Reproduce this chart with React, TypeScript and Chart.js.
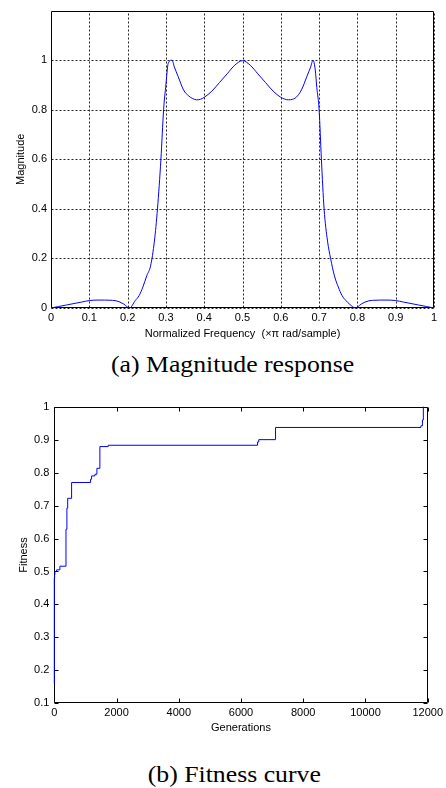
import React, { useEffect, useRef } from 'react';
import { Chart, registerables } from 'chart.js';

Chart.register(...registerables);

// ---- (a) Magnitude response ----
const freq = [
  0, 0.02, 0.04, 0.06, 0.08, 0.1, 0.12, 0.14, 0.16, 0.17, 0.18, 0.19, 0.205,
  0.22, 0.23, 0.24, 0.25, 0.26, 0.27, 0.278, 0.287, 0.294, 0.3, 0.306, 0.316,
  0.322, 0.332, 0.346, 0.36, 0.37, 0.38, 0.39, 0.4, 0.42, 0.44, 0.46, 0.48, 0.5,
  0.52, 0.54, 0.56, 0.58, 0.6, 0.61, 0.62, 0.63, 0.64, 0.654, 0.668, 0.678,
  0.684, 0.69, 0.694, 0.7, 0.706, 0.713, 0.722, 0.73, 0.74, 0.75, 0.76, 0.77,
  0.78, 0.795, 0.81, 0.82, 0.83, 0.84, 0.86, 0.88, 0.9, 0.92, 0.94, 0.96, 0.98, 1,
];
const magnitude = [
  0, 0.006, 0.012, 0.018, 0.024, 0.03, 0.032, 0.032, 0.031, 0.029, 0.024, 0.016, 0,
  0.03, 0.05, 0.085, 0.13, 0.17, 0.27, 0.4, 0.6, 0.8, 0.9, 0.987, 1.0,
  0.973, 0.934, 0.88, 0.855, 0.845, 0.84, 0.842, 0.85, 0.875, 0.91, 0.945, 0.98, 0.998,
  0.98, 0.945, 0.91, 0.875, 0.85, 0.843, 0.84, 0.842, 0.85, 0.88, 0.934, 0.973,
  1.0, 0.96, 0.89, 0.8, 0.6, 0.4, 0.27, 0.2, 0.13, 0.085, 0.05, 0.03,
  0.015, 0, 0.016, 0.024, 0.029, 0.031, 0.032, 0.032, 0.03, 0.024, 0.018, 0.012, 0.006, 0,
];
const freqMin = 0;
const freqMax = 1;
const freqStep = 0.1;
const magMin = 0;
const magMax = 1.2;
const magStep = 0.2;
const magTickMax = 1;

// ---- (b) Fitness curve ----
const generations = [
  0, 0, 10, 20, 75, 180, 375, 405, 430, 556, 1166, 1198, 1305, 1369, 1465, 1733,
  6530, 6570, 7110, 11780, 11830, 11860,
];
const fitness = [
  0.16, 0.48, 0.49, 0.5, 0.505, 0.516, 0.628, 0.692, 0.722, 0.77, 0.78, 0.79, 0.795,
  0.813, 0.879, 0.883, 0.893, 0.9, 0.937, 0.942, 0.96, 1.0,
];
const genMin = 0;
const genMax = 12000;
const genStep = 2000;
const fitMin = 0.1;
const fitMax = 1;
const fitStep = 0.1;

const FONT = "'Liberation Sans', Arial, sans-serif";

const fmt = (v: number) => String(Number(v.toFixed(2)));

const boxPlugin = {
  id: 'box',
  beforeDatasetsDraw(chart: any, _args: any, opts: any) {
    const { ctx, chartArea: a } = chart;
    const l = Math.round(a.left) + 0.5;
    const r = Math.round(a.right) - 0.5;
    const t = Math.round(a.top) + 0.5;
    const b = Math.round(a.bottom) - 0.5;
    const xs = chart.scales.x;
    const ys = chart.scales.y;
    ctx.save();
    ctx.lineWidth = 1;
    if (opts && opts.grid) {
      ctx.strokeStyle = '#222';
      ctx.setLineDash([2, 2]);
      ctx.beginPath();
      xs.ticks.forEach((tk: any) => {
        const px = Math.round(xs.getPixelForValue(tk.value)) + 0.5;
        ctx.moveTo(px, b);
        ctx.lineTo(px, t);
      });
      ys.ticks.forEach((tk: any) => {
        const py = Math.round(ys.getPixelForValue(tk.value)) + 0.5;
        ctx.moveTo(l, py);
        ctx.lineTo(r, py);
      });
      ctx.stroke();
    }
    ctx.setLineDash([]);
    ctx.strokeStyle = '#000';
    ctx.beginPath();
    ctx.rect(l, t, r - l, b - t);
    ctx.stroke();
    if (opts && opts.ticks) {
      const len = 4;
      ctx.beginPath();
      xs.ticks.forEach((tk: any) => {
        const px = Math.round(xs.getPixelForValue(tk.value)) + 0.5;
        ctx.moveTo(px, b);
        ctx.lineTo(px, b - len);
        ctx.moveTo(px, t);
        ctx.lineTo(px, t + len);
      });
      ys.ticks.forEach((tk: any) => {
        const py = Math.round(ys.getPixelForValue(tk.value)) + 0.5;
        ctx.moveTo(l, py);
        ctx.lineTo(l + len, py);
        ctx.moveTo(r, py);
        ctx.lineTo(r - len, py);
      });
      ctx.stroke();
    }
    ctx.restore();
  },
};

function MagnitudeChart() {
  const ref = useRef<HTMLCanvasElement>(null);
  useEffect(() => {
    if (!ref.current) return;
    const chart = new Chart(ref.current, {
      type: 'line',
      data: {
        datasets: [
          {
            data: freq.map((f, i) => ({ x: f, y: magnitude[i] })),
            borderColor: '#0000ff',
            borderWidth: 1,
            pointRadius: 0,
            cubicInterpolationMode: 'monotone',
            fill: false,
            clip: false,
          } as any,
        ],
      },
      options: {
        animation: false,
        responsive: false,
        maintainAspectRatio: false,
        layout: { padding: { top: 7, right: 12, left: 0, bottom: 0 } },
        plugins: { legend: { display: false }, tooltip: { enabled: false }, box: { ticks: false, grid: true } } as any,
        scales: {
          x: {
            type: 'linear',
            min: freqMin,
            max: freqMax,
            afterFit: (s: any) => { s.height = 37; },
            ticks: { stepSize: freqStep, color: '#000', font: { family: FONT, size: 11 }, padding: 3.4, maxRotation: 0, callback: (v: any) => fmt(Number(v)) },
            grid: { display: false, drawTicks: false },
            border: { display: false },
            title: { display: true, text: 'Normalized Frequency  (×π rad/sample)', color: '#000', font: { family: FONT, size: 11 }, padding: { top: 0, bottom: 4.4 } },
          },
          y: {
            type: 'linear',
            min: magMin,
            max: magMax,
            afterFit: (s: any) => { s.width = 51; },
            afterBuildTicks: (s: any) => { s.ticks = s.ticks.filter((t: any) => t.value <= magTickMax + 1e-6); },
            ticks: { stepSize: magStep, color: '#000', font: { family: FONT, size: 11 }, padding: 4, callback: (v: any) => fmt(Number(v)) },
            grid: { display: false, drawTicks: false },
            border: { display: false },
            title: { display: true, text: 'Magnitude', color: '#000', font: { family: FONT, size: 11 }, padding: { top: 14.4, bottom: 0 } },
          },
        },
      } as any,
      plugins: [boxPlugin],
    });
    return () => chart.destroy();
  }, []);
  return <canvas ref={ref} width={446} height={345} style={{ position: 'absolute', left: 0, top: 0, width: 446, height: 345 }} />;
}

function FitnessChart() {
  const ref = useRef<HTMLCanvasElement>(null);
  useEffect(() => {
    if (!ref.current) return;
    const chart = new Chart(ref.current, {
      type: 'line',
      data: {
        datasets: [
          {
            data: generations.map((g, i) => ({ x: g, y: fitness[i] })),
            borderColor: '#0000ff',
            borderWidth: 1,
            pointRadius: 0,
            stepped: 'before',
            fill: false,
            clip: false,
          } as any,
        ],
      },
      options: {
        animation: false,
        responsive: false,
        maintainAspectRatio: false,
        layout: { padding: { top: 16.7, right: 14.7, left: 0, bottom: 0 } },
        plugins: { legend: { display: false }, tooltip: { enabled: false }, box: { ticks: true, grid: false } } as any,
        scales: {
          x: {
            type: 'linear',
            min: genMin,
            max: genMax,
            afterFit: (s: any) => { s.height = 31.7; },
            ticks: { stepSize: genStep, color: '#000', font: { family: FONT, size: 11 }, padding: 3, maxRotation: 0, callback: (v: any) => String(v) },
            grid: { display: false, drawTicks: false },
            border: { display: false },
            title: { display: true, text: 'Generations', color: '#000', font: { family: FONT, size: 11 }, padding: { top: 0, bottom: 0.4 } },
          },
          y: {
            type: 'linear',
            min: fitMin,
            max: fitMax,
            afterFit: (s: any) => { s.width = 54.3; },
            ticks: { stepSize: fitStep, color: '#000', font: { family: FONT, size: 11 }, padding: 5, callback: (v: any) => fmt(Number(v)) },
            grid: { display: false, drawTicks: false },
            border: { display: false },
            title: { display: true, text: 'Fitness', color: '#000', font: { family: FONT, size: 11 }, padding: { top: 17.4, bottom: 0 } },
          },
        },
      } as any,
      plugins: [boxPlugin],
    });
    return () => chart.destroy();
  }, []);
  return <canvas ref={ref} width={446} height={345} style={{ position: 'absolute', left: 0, top: 390, width: 446, height: 345 }} />;
}

function Caption({ text, centerX, top }: { text: string; centerX: number; top: number }) {
  return (
    <div style={{ position: 'absolute', left: centerX - 223, top, width: 446, textAlign: 'center', lineHeight: '24px', height: 24 }}>
      <span style={{ display: 'inline-block', fontFamily: "'Liberation Serif', 'Times New Roman', serif", fontSize: 23, whiteSpace: 'nowrap', transform: 'scaleX(1.12)', transformOrigin: 'center', color: '#000' }}>
        {text}
      </span>
    </div>
  );
}

export default function App() {
  return (
    <div style={{ position: 'absolute', left: 0, top: 0, width: 446, height: 788, background: '#fff', overflow: 'hidden' }}>
      <MagnitudeChart />
      <Caption text="(a) Magnitude response" centerX={233} top={353} />
      <FitnessChart />
      <Caption text="(b) Fitness curve" centerX={234} top={763} />
    </div>
  );
}
